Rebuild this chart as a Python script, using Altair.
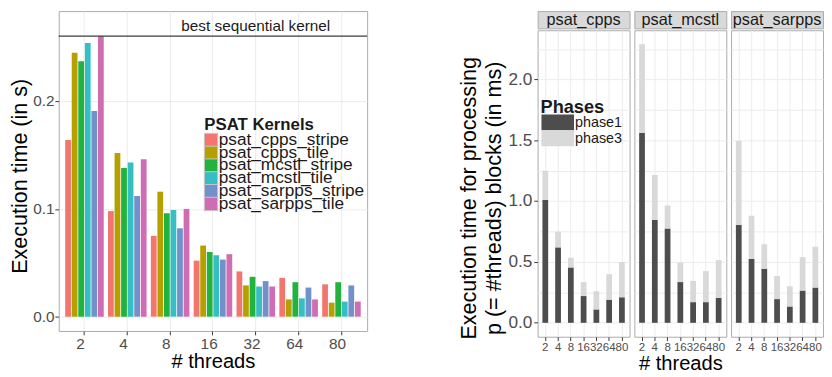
import altair as alt
import pandas as pd

FONT = "Liberation Sans"

# ---------------- data: left chart ----------------
threads = ["2", "4", "8", "16", "32", "64", "80"]
kernels = ["psat_cpps_stripe", "psat_cpps_tile", "psat_mcstl_stripe",
           "psat_mcstl_tile", "psat_sarpps_stripe", "psat_sarpps_tile"]
cpps_stripe = [0.164, 0.098, 0.075, 0.052, 0.042, 0.036, 0.030]
cpps_tile = [0.245, 0.152, 0.116, 0.066, 0.029, 0.016, 0.013]
mcstl_stripe = [0.237, 0.138, 0.096, 0.060, 0.037, 0.032, 0.032]
mcstl_tile = [0.254, 0.143, 0.099, 0.057, 0.028, 0.017, 0.014]
sarpps_stripe = [0.191, 0.112, 0.082, 0.053, 0.033, 0.027, 0.029]
sarpps_tile = [0.260, 0.146, 0.100, 0.058, 0.028, 0.016, 0.014]
kernel_colors = ["#F3766E", "#B5A000", "#22B33F", "#35BFC4", "#7290C9", "#D06CB4"]
best_sequential = [0.2604]
best_label = ["best sequential kernel"]
best_label_at = ["32"]
kernel_legend_title = ["PSAT Kernels"]

# ---------------- data: right chart ----------------
panels = ["psat_cpps", "psat_mcstl", "psat_sarpps"]
phases = ["phase1", "phase3"]
cpps_phase1 = [1.01, 0.62, 0.455, 0.22, 0.11, 0.19, 0.21]
cpps_phase3 = [0.24, 0.13, 0.08, 0.115, 0.15, 0.21, 0.29]
mcstl_phase1 = [1.56, 0.845, 0.775, 0.335, 0.17, 0.17, 0.205]
mcstl_phase3 = [0.73, 0.37, 0.19, 0.16, 0.175, 0.255, 0.31]
sarpps_phase1 = [0.805, 0.525, 0.445, 0.195, 0.135, 0.265, 0.29]
sarpps_phase3 = [0.69, 0.355, 0.20, 0.19, 0.165, 0.275, 0.335]
phase_colors = ["#4D4D4D", "#D9D9D9"]
phase_legend_title = ["Phases"]
right_ticks = [0.0, 0.25, 0.5, 0.75, 1.0, 1.25, 1.5, 1.75, 2.0, 2.25]

# ---------------- build tables ----------------
kernel_values = [cpps_stripe, cpps_tile, mcstl_stripe, mcstl_tile, sarpps_stripe, sarpps_tile]
left_rows = []
for k, vals in zip(kernels, kernel_values):
    for t, v in zip(threads, vals):
        left_rows.append({"threads": t, "kernel": k, "time": v})
left_df = pd.DataFrame(left_rows)
best_df = pd.DataFrame({"best": best_sequential, "label": best_label, "at": best_label_at})
kernel_leg_df = pd.DataFrame({"kernel": kernels})
kernel_leg_title_df = pd.DataFrame({"t": kernel_legend_title})
phase_leg_df = pd.DataFrame({"phase": phases})
phase_leg_title_df = pd.DataFrame({"t": phase_legend_title})

phase_values = {
    "psat_cpps": [cpps_phase1, cpps_phase3],
    "psat_mcstl": [mcstl_phase1, mcstl_phase3],
    "psat_sarpps": [sarpps_phase1, sarpps_phase3],
}

GRID = "#EBEBEB"
TICK = "#333333"
LABEL = "#4D4D4D"
BORDER = "#A8A8A8"
TEXT = "#1A1A1A"

# ---------------- left chart ----------------
kernel_color = alt.Color("kernel:N", sort=kernels,
                         scale=alt.Scale(domain=kernels, range=kernel_colors), legend=None)

x_left = alt.X("threads:N", sort=threads,
               scale=alt.Scale(domain=threads, paddingInner=0.1, paddingOuter=0.15),
               axis=alt.Axis(title="# threads", labelAngle=0, labelFontSize=16, labelColor=LABEL,
                             labelOffset=-4, titleFontSize=21, titleFontWeight="normal",
                             titleColor="#000000", tickColor=TICK, tickSize=4, labelPadding=1,
                             titlePadding=0, domain=False, grid=True, gridColor=GRID))
y_left = alt.Y("time:Q",
               scale=alt.Scale(domain=[-0.0133, 0.2836], nice=False, zero=False),
               axis=alt.Axis(title="Execution time (in s)", values=[0.0, 0.1, 0.2], format=".1f",
                             labelFontSize=16, labelColor=LABEL, titleFontSize=22.5,
                             titleFontWeight="normal", titleColor="#000000", tickColor=TICK,
                             tickSize=4, labelPadding=1, titlePadding=1, titleY=172,
                             domain=False, grid=True, gridColor=GRID))

bars = alt.Chart(left_df).mark_bar().encode(
    x=x_left,
    xOffset=alt.XOffset("kernel:N", sort=kernels, scale=alt.Scale(domain=kernels, paddingInner=0.12)),
    y=y_left,
    y2=alt.datum(0),
    color=kernel_color,
)

best_rule = alt.Chart(best_df).mark_rule(color="black", strokeWidth=1).encode(y="best:Q")
best_text = alt.Chart(best_df).mark_text(fontSize=16, color=TEXT, baseline="middle", dy=-10).encode(
    x="at:N", y="best:Q", text="label:N")

kleg_y = alt.Y("kernel:N", sort=kernels,
               scale=alt.Scale(type="band", domain=kernels, range=[128, 208],
                               paddingInner=0, paddingOuter=0), axis=None)
kleg_sq = alt.Chart(kernel_leg_df).mark_square(size=196, opacity=1, stroke="#C8C8C8", strokeWidth=1).encode(
    x=alt.value(159), y=kleg_y, color=kernel_color)
kleg_lab = alt.Chart(kernel_leg_df).mark_text(align="left", baseline="middle", fontSize=18, color=TEXT).encode(
    x=alt.value(167), y=kleg_y, text="kernel:N")
kleg_title = alt.Chart(kernel_leg_title_df).mark_text(align="left", baseline="middle", fontSize=17.5,
                                                      fontWeight="bold", color=TEXT).encode(
    x=alt.value(152), y=alt.value(119), text="t:N")

left = alt.layer(alt.layer(bars, best_rule, best_text), kleg_sq, kleg_lab, kleg_title).resolve_scale(
    y="independent").properties(width=322, height=334)

# ---------------- right chart ----------------
phase_color = alt.Color("phase:N", scale=alt.Scale(domain=phases, range=phase_colors), legend=None)

right_panels = []
for i, p in enumerate(panels):
    rows = []
    for j, (ph, vals) in enumerate(zip(phases, phase_values[p])):
        for t, v in zip(threads, vals):
            rows.append({"threads": t, "phase": ph, "order": j, "time": v})
    df = pd.DataFrame(rows)

    x_kw = dict(labelAngle=0, labelFontSize=12, labelColor=LABEL, tickColor=TICK, tickSize=4,
                labelPadding=1, domain=False, grid=True, gridColor=GRID, labelOverlap=False,
                titleFontSize=21, titleFontWeight="normal", titleColor="#000000", titlePadding=1)
    if i == 1:
        x_axis = alt.Axis(title="# threads", **x_kw)
    else:
        x_axis = alt.Axis(title=None, **x_kw)

    y_kw = dict(values=right_ticks, domain=False, grid=True, gridColor=GRID)
    if i == 0:
        y_axis = alt.Axis(title=["Execution time for processing", "p (= #threads) blocks (in ms)"],
                          labelExpr="datum.value % 0.5 === 0 ? format(datum.value, '.1f') : ''",
                          tickColor=alt.condition("datum.value % 0.5 === 0", alt.value(TICK), alt.value("transparent")),
                          labelFontSize=18, labelColor=LABEL, tickSize=4, labelPadding=2,
                          titleFontSize=22.5, titleFontWeight="normal", titleColor="#000000",
                          titleLineHeight=26, titlePadding=3, titleY=175, **y_kw)
    else:
        y_axis = alt.Axis(title=None, labels=False, ticks=False, **y_kw)

    plot = alt.Chart(df).mark_bar().encode(
        x=alt.X("threads:N", sort=threads,
                scale=alt.Scale(domain=threads, paddingInner=0.55, paddingOuter=0.375), axis=x_axis),
        y=alt.Y("time:Q", stack="zero",
                scale=alt.Scale(domain=[-0.1145, 2.4045], nice=False, zero=False), axis=y_axis),
        color=phase_color,
        order=alt.Order("order:Q", sort="ascending"),
    )

    if i == 0:
        pleg_y = alt.Y("phase:N", sort=phases,
                       scale=alt.Scale(type="band", domain=phases, range=[88, 121],
                                       paddingInner=0, paddingOuter=0), axis=None)
        pleg_rect = alt.Chart(phase_leg_df).mark_rect().encode(
            x=alt.value(4), x2=alt.value(38), y=pleg_y, color=phase_color)
        pleg_lab = alt.Chart(phase_leg_df).mark_text(align="left", baseline="middle", fontSize=15,
                                                     color=TEXT).encode(
            x=alt.value(39), y=pleg_y, text="phase:N")
        pleg_title = alt.Chart(phase_leg_title_df).mark_text(align="left", baseline="middle", fontSize=19,
                                                             fontWeight="bold", color=TEXT).encode(
            x=alt.value(3), y=alt.value(80), text="t:N")
        body = alt.layer(plot, pleg_rect, pleg_lab, pleg_title).resolve_scale(y="independent")
    else:
        body = alt.layer(plot)
    body = body.properties(width=96, height=320)

    strip = alt.Chart(pd.DataFrame({"panel": [p]})).mark_text(
        fontSize=17, color=TEXT, baseline="middle").encode(text="panel:N").properties(
        width=96, height=18, view=alt.ViewBackground(fill="#D9D9D9", stroke=BORDER))

    right_panels.append(alt.vconcat(strip, body, spacing=0))

right = alt.hconcat(*right_panels, spacing=3)

chart = alt.hconcat(left, right, spacing=93).resolve_scale(color="independent").properties(
    padding={"top": -6, "left": 1, "right": 0, "bottom": 0}
).configure(font=FONT).configure_view(stroke=BORDER, strokeWidth=1)

chart.save("out.html", embed_options={"renderer": "svg", "actions": False})
